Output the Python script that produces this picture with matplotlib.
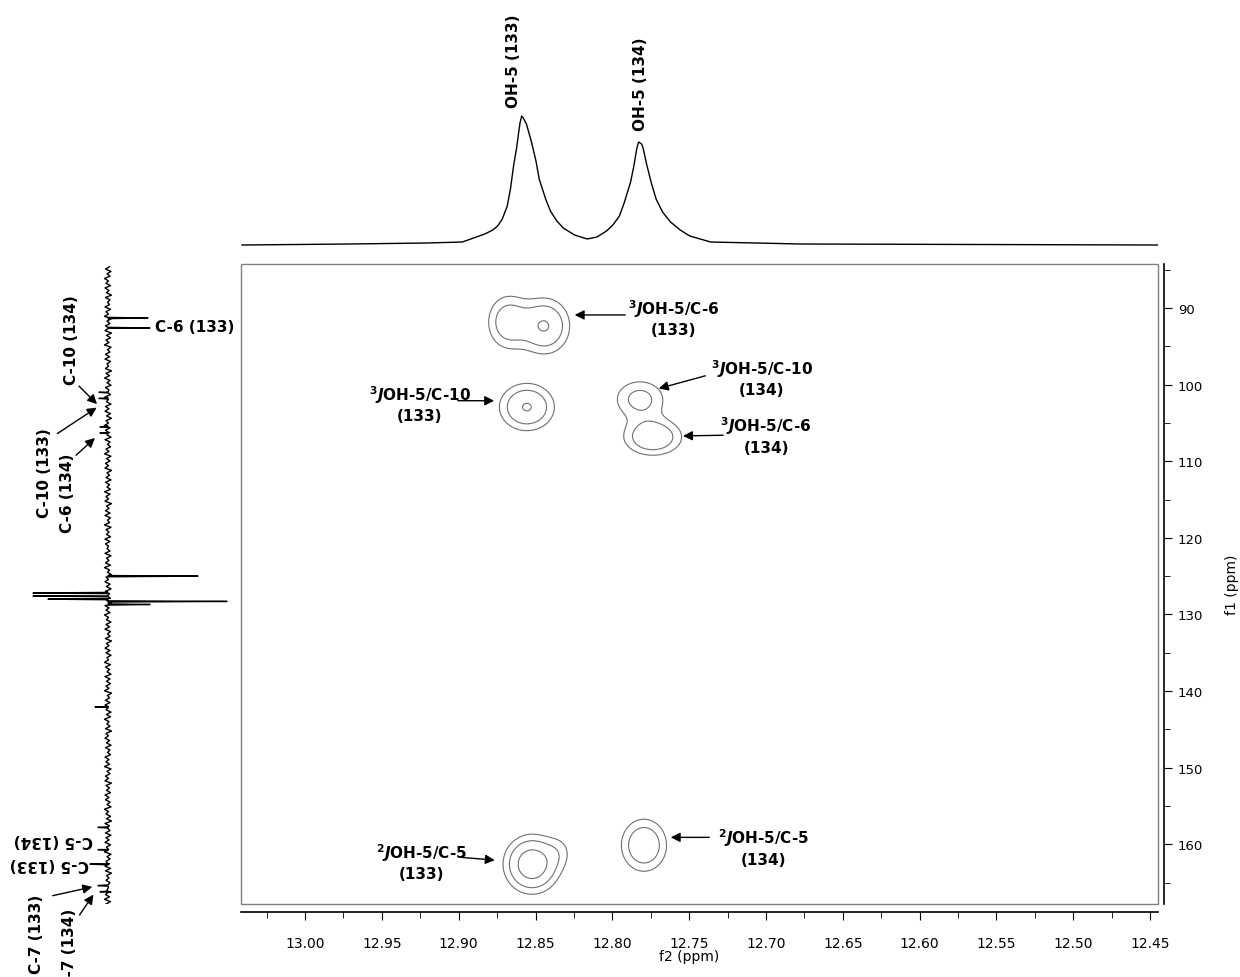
import numpy as np
import matplotlib.pyplot as plt
from matplotlib.patches import Rectangle

plt.rcParams['mathtext.fontset'] = 'custom'
plt.rcParams['mathtext.it'] = 'DejaVu Sans:italic:bold'
plt.rcParams['mathtext.rm'] = 'DejaVu Sans:bold'
plt.rcParams['mathtext.bf'] = 'DejaVu Sans:bold'

# 1H projection on top (f2 ppm / intensity)
h_ppm = [13.041, 12.9706, 12.9206, 12.8976, 12.8903, 12.8830, 12.8778, 12.8747, 12.8716, 12.8684,
         12.8663, 12.8643, 12.8622, 12.8611, 12.8601, 12.8590, 12.8580, 12.8559, 12.8528, 12.8497,
         12.8476, 12.8434, 12.8403, 12.8361, 12.8319, 12.8246, 12.8163, 12.8100, 12.8038, 12.7996,
         12.7954, 12.7923, 12.7881, 12.7861, 12.7850, 12.7840, 12.7829, 12.7809, 12.7798, 12.7777,
         12.7746, 12.7715, 12.7673, 12.7621, 12.7558, 12.7496, 12.7360, 12.6776, 12.4448]
h_int = [0, 1, 2, 3, 7, 11, 15, 19, 26, 39,
         56, 79, 98, 111, 122, 129, 127, 121, 104, 84,
         66, 46, 34, 24, 17, 10, 6, 8, 14, 20,
         29, 42, 63, 78, 88, 97, 103, 101, 96, 81,
         62, 46, 33, 23, 15, 9, 3, 1, 0]
h_labels = ['OH-5 (133)', 'OH-5 (134)']
h_label_ppm = [12.8643, 12.7814]
h_label_int = [138, 115]

# 13C projection on the left (f1 ppm / height, + right, - left)
c_ppm = [91.3, 92.6, 101.0, 101.8, 105.5, 106.3, 125.0, 127.2, 127.6, 128.0, 128.3, 128.7,
         142.1, 157.8, 160.7, 162.6, 165.4, 166.2]
c_int = [40, 42, -9, -9, -8, -8, 90, -75, -75, -60, 119, 42,
         -13, -10, -10, -18, -10, -8]
c_noise = [1.5, -2.5, 3.0, -1.0, 2.0, -3.5, 0.5, -2.0, 2.5, -3.0, 1.0, -1.5, 3.5, -2.5, 2.0,
           -0.5, 1.5, -3.0, 2.5, -2.0, 0.5, -3.5, 3.0, -1.0, 2.0, -2.5, 1.0, -3.0, 3.5, -1.5,
           2.5, -2.0, 1.0, -3.5, 3.0, -0.5, 2.0, -2.5, 1.5, -3.0, 2.5, -1.0, 0.5, -2.5, 3.5,
           -2.0, 1.5, -3.5, 2.0, -1.0, 3.0, -2.5, 1.0, -2.0, 2.5, -3.0, 0.5, -1.5, 3.0, -2.5,
           1.0, -3.0, 2.5, -1.5, 3.5, -2.0, 0.5, -3.5, 2.0, -2.5, 1.5, -1.0, 3.0, -3.0, 2.0,
           -0.5, 2.5, -2.0, 1.0, -3.5, 3.0, -1.5, 2.0, -2.5, 0.5, -3.0, 3.5, -1.0, 1.5, -2.0,
           3.0, -2.5, 1.5, -1.0, 2.5, -3.5, 2.0, -2.0, 0.5, -3.0, 3.5, -1.5, 1.0, -2.5, 2.0,
           -3.0, 2.5, -0.5, 1.5, -3.5, 3.0, -2.0, 1.0, -1.5, 2.5, -3.0, 2.0, -2.5, 0.5, -1.0,
           2.0, -3.0, 3.0, -1.5, 1.0, -2.5, 2.5, -3.5, 1.5, -0.5, 3.5, -2.0, 0.5, -3.0, 2.0,
           -1.5, 3.0, -2.5, 1.5, -2.0, 2.5, -1.0, 3.5, -3.0, 1.0, -2.0, 2.0, -3.5, 0.5, -1.5,
           3.0, -2.0, 1.5, -3.0, 2.5, -0.5, 2.0, -2.5, 3.5, -1.5, 1.0, -3.0, 2.0, -2.0, 3.0,
           -1.0, 0.5, -3.5, 2.5, -2.5, 1.5, -1.0, 3.0, -3.0, 2.0, -1.5, 2.5, -2.0, 1.0, -3.5,
           3.5, -0.5, 1.5, -2.5, 2.0, -3.0, 0.5, -2.0, 3.0, -1.5, 2.5, -3.5, 1.0, -1.0, 2.0,
           -2.5, 3.5, -2.0, 0.5, -3.0, 1.5, -1.5, 3.0, -2.5, 2.0, -0.5, 2.5, -3.0, 1.0, -2.0,
           1.5, -3.5, 3.0, -1.0, 2.0, -2.5, 0.5, -3.0, 3.5, -2.0, 1.5, -1.5, 2.5, -3.0, 1.0,
           -2.5, 2.0, -1.0, 3.0, -3.5, 0.5, -2.0, 2.5, -1.5, 3.5, -3.0, 1.5, -0.5, 2.0, -2.5,
           3.0, -2.0, 1.0, -3.0, 2.5, -1.5, 0.5, -3.5, 3.0, -1.0, 2.0, -2.0, 1.5, -3.0, 2.5,
           -2.5, 3.5, -1.5, 1.0, -2.0, 2.0, -3.0, 0.5, -1.0, 3.0, -2.5, 1.5, -3.5, 2.5, -2.0]

# HMBC cross peaks (f2, f1, amplitude, widths)
pk_f2 = [12.8679, 12.8438, 12.8556, 12.7820, 12.7736, 12.8523, 12.8341, 12.7794]
pk_f1 = [91.83, 92.35, 102.93, 101.9, 106.85, 162.61, 160.9, 160.13]
pk_amp = [2.6, 3.25, 3.3, 2.2, 3.1, 4.5, 0.8, 3.0]
pk_sx = [0.00907, 0.01043, 0.01157, 0.01168, 0.01241, 0.01084, 0.00646, 0.00990]
pk_sy = [2.35, 2.35, 1.99, 1.8, 1.57, 2.26, 1.57, 2.29]
levels = [1.0, 1.8, 3.2]

f2_lim = (13.0417, 12.4448)
f1_lim = (167.8, 84.25)

fig = plt.figure(figsize=(12.4, 9.78), dpi=100)
ax = fig.add_axes([241/1240, 1-905/978, 917/1240, 640/978])
ax_top = fig.add_axes([241/1240, 1-250/978, 917/1240, 150/978])
ax_left = fig.add_axes([20/1240, 1-905/978, 220/1240, 640/978])

# contours
X, Y = np.meshgrid(np.linspace(12.44, 13.05, 700), np.linspace(84, 168, 600))
Z = np.zeros_like(X)
for f2, f1, a, sx, sy in zip(pk_f2, pk_f1, pk_amp, pk_sx, pk_sy):
    Z += a * np.exp(-(X - f2)**2 / (2*sx**2) - (Y - f1)**2 / (2*sy**2))
ax.contour(X, Y, Z, levels=levels, colors='#707070', linewidths=0.8)

ax.set_xlim(*f2_lim)
ax.set_ylim(*f1_lim)
ax.add_patch(Rectangle((0, 0), 1, 1, transform=ax.transAxes, fill=False,
                       ec='#808080', lw=1, clip_on=False))
ax.spines['top'].set_visible(False)
ax.spines['left'].set_visible(False)
ax.spines['right'].set_position(('outward', 4.3))
ax.spines['bottom'].set_position(('outward', 5.8))
ax.spines['right'].set_linewidth(1.2)
ax.spines['bottom'].set_linewidth(1.2)
ax.yaxis.tick_right()
ax.set_xticks(np.arange(12.45, 13.01, 0.05))
ax.set_xticks(np.arange(12.45, 13.04, 0.025), minor=True)
ax.set_xticklabels(['%.2f' % v for v in np.arange(12.45, 13.01, 0.05)], fontsize=10)
ax.set_yticks(np.arange(90, 161, 10))
ax.set_yticks(np.arange(85, 166, 5), minor=True)
ax.tick_params(axis='y', which='major', direction='out', length=6, labelsize=9.5, pad=4)
ax.tick_params(axis='y', which='minor', direction='out', length=4)
ax.tick_params(axis='x', which='major', direction='out', length=6, pad=11)
ax.tick_params(axis='x', which='minor', direction='out', length=4)
fig.text(1232/1240, 1-585/978, 'f1 (ppm)', rotation=90, ha='center', va='center', fontsize=10)
fig.text(689/1240, 1-957/978, 'f2 (ppm)', ha='center', va='center', fontsize=10)

# cross-peak labels: text, text pos, arrow tail, arrow tip
notes = [
    (r'$^{3}J$OH-5/C-6' + '\n(133)', (12.7600, 91.2), (12.7898, 90.9), (12.8263, 90.9)),
    (r'$^{3}J$OH-5/C-10' + '\n(133)', (12.9252, 102.4), (12.9024, 102.1), (12.8751, 102.1)),
    (r'$^{3}J$OH-5/C-10' + '\n(134)', (12.7027, 99.0), (12.7377, 98.75), (12.7715, 100.6)),
    (r'$^{3}J$OH-5/C-6' + '\n(134)', (12.6999, 106.5), (12.7260, 106.6), (12.7558, 106.7)),
    (r'$^{2}J$OH-5/C-5' + '\n(133)', (12.9239, 162.2), (12.8992, 161.7), (12.8747, 162.1)),
    (r'$^{2}J$OH-5/C-5' + '\n(134)', (12.7016, 160.3), (12.7351, 159.1), (12.7638, 159.1)),
]
for txt, pos, tail, tip in notes:
    ax.text(pos[0], pos[1], txt, ha='center', va='center', multialignment='center',
            fontsize=11, fontweight='bold', linespacing=1.3)
    ax.annotate('', xy=tip, xytext=tail,
                arrowprops=dict(arrowstyle='-|>', color='black', lw=1, mutation_scale=14))

# top 1H trace
ax_top.plot(h_ppm, h_int, color='black', lw=1)
ax_top.set_xlim(*f2_lim)
ax_top.set_ylim(-4, 146)
ax_top.axis('off')
for lab, x, y in zip(h_labels, h_label_ppm, h_label_int):
    ax_top.text(x, y, lab, rotation=90, ha='center', va='bottom', fontsize=11,
                fontweight='bold', clip_on=False)

# left 13C trace
n_pos = np.linspace(84.6, 167.8, len(c_noise))
ys = list(n_pos)
xs = list(c_noise)
for p, v in zip(c_ppm, c_int):
    ys += [p - 0.08, p, p + 0.08]
    xs += [0, v, 0]
order = np.argsort(ys)
ax_left.plot(np.array(xs)[order], np.array(ys)[order], color='black', lw=1.0)
ax_left.set_xlim(-88, 132)
ax_left.set_ylim(*f1_lim)
ax_left.axis('off')

bold = dict(fontsize=11, fontweight='bold')
ax_left.text(47, 92.35, 'C-6 (133)', ha='left', va='center', **bold)
ax_left.text(-36, 94.05, 'C-10 (134)', rotation=90, ha='center', va='center', **bold)
ax_left.text(-63, 111.42, 'C-10 (133)', rotation=90, ha='center', va='center', **bold)
ax_left.text(-40, 114.03, 'C-6 (134)', rotation=90, ha='center', va='center', **bold)
ax_left.text(-55, 159.35, 'C-5 (134)', rotation=180, ha='center', va='center', **bold)
ax_left.text(-59, 162.48, 'C-5 (133)', rotation=180, ha='center', va='center', **bold)
ax_left.text(-71, 171.6, 'C-7 (133)', rotation=90, ha='center', va='center', **bold)
ax_left.text(-38, 173.4, 'C-7 (134)', rotation=90, ha='center', va='center', **bold)

arrows_left = [((-31, 99.93), (-9, 102.8)), ((-53, 106.59), (-9, 102.8)),
               ((-34, 109.46), (-11, 106.72)), ((-58, 166.79), (-13, 165.49)),
               ((-30, 169.53), (-13, 166.27))]
for tail, tip in arrows_left:
    ax_left.annotate('', xy=tip, xytext=tail, annotation_clip=False,
                     arrowprops=dict(arrowstyle='-|>', color='black', lw=1, mutation_scale=14))

fig.savefig('out.png', dpi=100)
